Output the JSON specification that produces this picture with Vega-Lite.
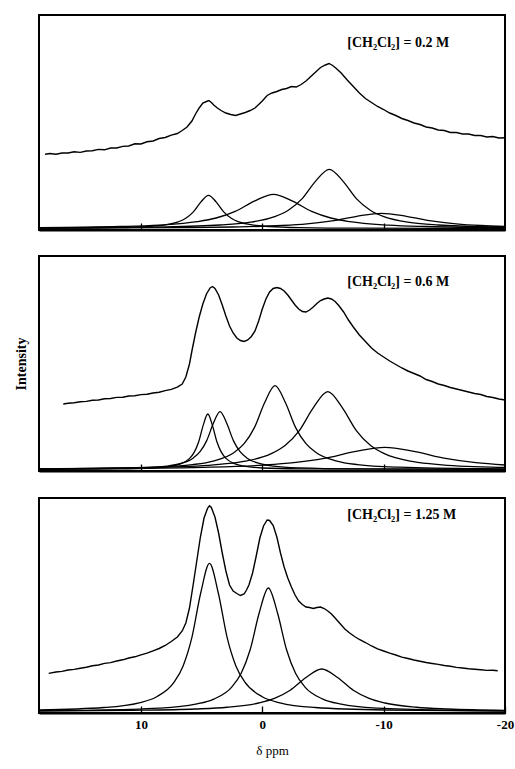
{
  "$schema": "https://vega.github.io/schema/vega-lite/v6.json",
  "background": "white",
  "padding": {"left": 13, "top": 14, "right": 5, "bottom": 5},
  "spacing": 23,
  "config": {
    "view": {"stroke": "black", "strokeWidth": 2},
    "font": "Liberation Serif",
    "axis": {
      "grid": false, "domain": false,
      "labelFont": "Liberation Serif", "labelFontWeight": "bold", "labelFontSize": 13, "labelColor": "black",
      "titleFont": "Liberation Serif", "titleFontWeight": "normal", "titleFontSize": 13, "titleColor": "black",
      "tickColor": "black", "tickWidth": 1.3, "tickSize": -7
    },
    "axisX": {"domain": true, "domainColor": "black", "domainWidth": 2}
  },
  "datasets": {
    "s1": [
      {"x":17.9,"y":75.7},{"x":17.5,"y":76.5},{"x":17.0,"y":75.8},{"x":16.5,"y":77.0},{"x":16.0,"y":77.0},{"x":15.5,"y":78.3},{"x":15.0,"y":77.6},{"x":14.5,"y":79.0},{"x":14.0,"y":79.2},{"x":13.5,"y":80.6},{"x":13.0,"y":80.2},{"x":12.5,"y":82.0},{"x":12.0,"y":82.0},{"x":11.5,"y":83.6},{"x":11.0,"y":84.0},{"x":10.5,"y":86.2},{"x":10.0,"y":86.0},{"x":9.5,"y":88.2},{"x":9.0,"y":89.0},{"x":8.5,"y":91.5},{"x":8.0,"y":92.5},{"x":7.5,"y":94.8},{"x":7.0,"y":96.5},{"x":6.6,"y":99.5},{"x":6.2,"y":103},{"x":5.8,"y":109},{"x":5.5,"y":116},{"x":5.2,"y":122},{"x":4.9,"y":127},{"x":4.6,"y":128.5},{"x":4.4,"y":129.5},{"x":4.2,"y":127.5},{"x":4.0,"y":125},{"x":3.7,"y":122},{"x":3.4,"y":119.5},{"x":3.0,"y":117},{"x":2.6,"y":115.5},{"x":2.2,"y":114.5},{"x":1.8,"y":116},{"x":1.4,"y":117.5},{"x":1.0,"y":119.5},{"x":0.6,"y":122},{"x":0.3,"y":125.5},{"x":0.0,"y":129},{"x":-0.4,"y":134.5},{"x":-0.8,"y":137},{"x":-1.2,"y":138.5},{"x":-1.6,"y":140.5},{"x":-2.0,"y":141.5},{"x":-2.4,"y":143.5},{"x":-2.8,"y":143},{"x":-3.2,"y":145.5},{"x":-3.6,"y":149},{"x":-4.0,"y":153.5},{"x":-4.4,"y":158},{"x":-4.8,"y":162.5},{"x":-5.2,"y":165},{"x":-5.5,"y":166.5},{"x":-5.8,"y":164.5},{"x":-6.1,"y":161.5},{"x":-6.5,"y":157},{"x":-7.0,"y":150},{"x":-7.5,"y":143.5},{"x":-8.0,"y":137},{"x":-8.5,"y":131.5},{"x":-9.0,"y":127.5},{"x":-9.5,"y":123.5},{"x":-10.0,"y":120.5},{"x":-10.5,"y":117},{"x":-11.0,"y":114.5},{"x":-11.5,"y":111.5},{"x":-12.0,"y":109.5},{"x":-12.5,"y":107},{"x":-13.0,"y":105.5},{"x":-13.5,"y":103},{"x":-14.0,"y":102},{"x":-14.5,"y":100},{"x":-15.0,"y":99.5},{"x":-15.5,"y":97.5},{"x":-16.0,"y":97.5},{"x":-16.5,"y":96},{"x":-17.0,"y":96},{"x":-17.5,"y":94.5},{"x":-18.0,"y":94.5},{"x":-18.5,"y":93},{"x":-19.0,"y":93.5},{"x":-19.5,"y":92},{"x":-20.0,"y":92.3}
    ],
    "s2": [
      {"x":16.4,"y":67},{"x":16.0,"y":67.8},{"x":15.5,"y":68.2},{"x":15.0,"y":69.3},{"x":14.5,"y":69.6},{"x":14.0,"y":70.8},{"x":13.5,"y":71.0},{"x":13.0,"y":72.2},{"x":12.5,"y":72.5},{"x":12.0,"y":73.6},{"x":11.5,"y":73.8},{"x":11.0,"y":75.0},{"x":10.5,"y":75.2},{"x":10.0,"y":76.4},{"x":9.5,"y":76.8},{"x":9.0,"y":78.0},{"x":8.5,"y":78.8},{"x":8.0,"y":80.4},{"x":7.5,"y":81.6},{"x":7.0,"y":83.8},{"x":6.6,"y":87},{"x":6.3,"y":94},{"x":6.0,"y":107},{"x":5.8,"y":120},{"x":5.5,"y":138},{"x":5.2,"y":154},{"x":4.9,"y":167},{"x":4.6,"y":177},{"x":4.3,"y":183},{"x":4.1,"y":184.5},{"x":3.9,"y":182.5},{"x":3.6,"y":176},{"x":3.3,"y":166},{"x":3.0,"y":155},{"x":2.7,"y":145},{"x":2.4,"y":138},{"x":2.1,"y":133},{"x":1.8,"y":130.5},{"x":1.5,"y":129.5},{"x":1.2,"y":131},{"x":0.9,"y":134.5},{"x":0.6,"y":140},{"x":0.3,"y":150},{"x":0.0,"y":162},{"x":-0.3,"y":172},{"x":-0.6,"y":179},{"x":-0.9,"y":182.5},{"x":-1.2,"y":183.5},{"x":-1.5,"y":182.5},{"x":-1.8,"y":180},{"x":-2.1,"y":176},{"x":-2.4,"y":171},{"x":-2.7,"y":166},{"x":-3.0,"y":162},{"x":-3.3,"y":159.5},{"x":-3.6,"y":159},{"x":-3.9,"y":161},{"x":-4.2,"y":164},{"x":-4.5,"y":167.5},{"x":-4.8,"y":170.5},{"x":-5.1,"y":172},{"x":-5.4,"y":173},{"x":-5.7,"y":172},{"x":-6.0,"y":169.5},{"x":-6.3,"y":165.5},{"x":-6.7,"y":159},{"x":-7.1,"y":151},{"x":-7.5,"y":144},{"x":-8.0,"y":136},{"x":-8.5,"y":129.5},{"x":-9.0,"y":123},{"x":-9.5,"y":118},{"x":-10.0,"y":114},{"x":-10.5,"y":110},{"x":-11.0,"y":106.5},{"x":-11.5,"y":103},{"x":-12.0,"y":100},{"x":-12.5,"y":97.5},{"x":-13.0,"y":95},{"x":-13.5,"y":91.5},{"x":-14.0,"y":89.5},{"x":-14.5,"y":87},{"x":-15.0,"y":85.5},{"x":-15.5,"y":83.5},{"x":-16.0,"y":82},{"x":-16.5,"y":80.5},{"x":-17.0,"y":79},{"x":-17.5,"y":77.5},{"x":-18.0,"y":76.5},{"x":-18.5,"y":74.5},{"x":-19.0,"y":73.5},{"x":-19.5,"y":72},{"x":-20.0,"y":71}
    ],
    "s3": [
      {"x":17.6,"y":39.6},{"x":17.0,"y":41.0},{"x":16.5,"y":41.6},{"x":16.0,"y":43.0},{"x":15.5,"y":43.6},{"x":15.0,"y":44.8},{"x":14.5,"y":45.8},{"x":14.0,"y":47.2},{"x":13.5,"y":48.0},{"x":13.0,"y":49.6},{"x":12.5,"y":50.4},{"x":12.0,"y":52.0},{"x":11.5,"y":53.2},{"x":11.0,"y":55.0},{"x":10.5,"y":56.2},{"x":10.0,"y":58.2},{"x":9.5,"y":59.8},{"x":9.0,"y":62.2},{"x":8.5,"y":64.5},{"x":8.0,"y":67.5},{"x":7.5,"y":71.5},{"x":7.0,"y":76},{"x":6.6,"y":82},{"x":6.3,"y":90},{"x":6.0,"y":105},{"x":5.7,"y":128},{"x":5.4,"y":152},{"x":5.1,"y":176},{"x":4.8,"y":195},{"x":4.5,"y":205},{"x":4.35,"y":207.3},{"x":4.2,"y":205.5},{"x":3.9,"y":196},{"x":3.6,"y":180},{"x":3.3,"y":160},{"x":3.0,"y":142},{"x":2.7,"y":128},{"x":2.4,"y":122},{"x":2.1,"y":119.5},{"x":1.8,"y":117.5},{"x":1.5,"y":119},{"x":1.3,"y":123},{"x":1.1,"y":128},{"x":0.8,"y":140},{"x":0.5,"y":157},{"x":0.2,"y":175},{"x":-0.1,"y":187},{"x":-0.4,"y":193},{"x":-0.6,"y":192.5},{"x":-0.9,"y":187.5},{"x":-1.2,"y":176},{"x":-1.5,"y":160},{"x":-1.8,"y":146},{"x":-2.1,"y":135},{"x":-2.4,"y":126},{"x":-2.7,"y":118},{"x":-3.0,"y":112},{"x":-3.3,"y":108.5},{"x":-3.6,"y":106},{"x":-3.9,"y":105.5},{"x":-4.2,"y":104.5},{"x":-4.5,"y":105.5},{"x":-4.8,"y":106},{"x":-5.1,"y":104.5},{"x":-5.4,"y":102},{"x":-5.7,"y":99},{"x":-6.0,"y":95},{"x":-6.4,"y":89.5},{"x":-6.8,"y":84},{"x":-7.2,"y":80},{"x":-7.6,"y":76.5},{"x":-8.0,"y":73.5},{"x":-8.5,"y":70.5},{"x":-9.0,"y":67},{"x":-9.5,"y":64.2},{"x":-10.0,"y":62},{"x":-10.5,"y":59.8},{"x":-11.0,"y":58},{"x":-11.5,"y":55.8},{"x":-12.0,"y":54.5},{"x":-12.5,"y":53},{"x":-13.0,"y":51.8},{"x":-13.5,"y":50.5},{"x":-14.0,"y":49.5},{"x":-14.5,"y":48.6},{"x":-15.0,"y":47.5},{"x":-15.5,"y":46.8},{"x":-16.0,"y":45.6},{"x":-16.5,"y":45},{"x":-17.0,"y":44.2},{"x":-17.5,"y":43.8},{"x":-18.0,"y":43.2},{"x":-18.5,"y":42.6},{"x":-19.0,"y":42.8},{"x":-19.4,"y":42.3}
    ],
    "k1": [
      {"c":"A","x":18.4,"y":1.8},{"c":"A","x":16.93,"y":1.8},{"c":"A","x":11.93,"y":2.4},{"c":"A","x":9.43,"y":3.5},{"c":"A","x":8.18,"y":4.8},{"c":"A","x":6.93,"y":8.1},{"c":"A","x":6.305,"y":11.7},{"c":"A","x":5.68,"y":18.1},{"c":"A","x":5.055,"y":28.1},{"c":"A","x":4.43,"y":34.7},{"c":"A","x":3.805,"y":28.1},{"c":"A","x":3.18,"y":18.1},{"c":"A","x":2.555,"y":11.7},{"c":"A","x":1.93,"y":8.1},{"c":"A","x":0.68,"y":4.8},{"c":"A","x":-0.57,"y":3.5},{"c":"A","x":-3.07,"y":2.4},{"c":"A","x":-8.07,"y":1.8},{"c":"A","x":-20,"y":1.6},
      {"c":"B","x":18.4,"y":2.4},{"c":"B","x":11.68,"y":3.5},{"c":"B","x":8.53,"y":4.9},{"c":"B","x":5.38,"y":8.3},{"c":"B","x":3.805,"y":12.0},{"c":"B","x":2.23,"y":18.6},{"c":"B","x":0.655,"y":28.9},{"c":"B","x":-0.92,"y":35.7},{"c":"B","x":-2.495,"y":28.9},{"c":"B","x":-4.07,"y":18.6},{"c":"B","x":-5.645,"y":12.0},{"c":"B","x":-7.22,"y":8.3},{"c":"B","x":-10.37,"y":4.9},{"c":"B","x":-13.52,"y":3.5},{"c":"B","x":-20,"y":2.4},
      {"c":"C","x":18.4,"y":2.0},{"c":"C","x":7.98,"y":3.1},{"c":"C","x":3.48,"y":5.0},{"c":"C","x":1.23,"y":7.4},{"c":"C","x":-1.02,"y":13.3},{"c":"C","x":-2.145,"y":19.7},{"c":"C","x":-3.27,"y":31.1},{"c":"C","x":-4.395,"y":48.9},{"c":"C","x":-5.52,"y":60.7},{"c":"C","x":-6.645,"y":48.9},{"c":"C","x":-7.77,"y":31.1},{"c":"C","x":-8.895,"y":19.7},{"c":"C","x":-10.02,"y":13.3},{"c":"C","x":-12.27,"y":7.4},{"c":"C","x":-14.52,"y":5.0},{"c":"C","x":-19.02,"y":3.1},{"c":"C","x":-20,"y":2.9},
      {"c":"D","x":18.4,"y":1.8},{"c":"D","x":6.57,"y":2.4},{"c":"D","x":2.47,"y":3.0},{"c":"D","x":-1.63,"y":4.5},{"c":"D","x":-3.68,"y":6.2},{"c":"D","x":-5.73,"y":9.1},{"c":"D","x":-7.78,"y":13.7},{"c":"D","x":-9.83,"y":16.7},{"c":"D","x":-11.88,"y":13.7},{"c":"D","x":-13.93,"y":9.1},{"c":"D","x":-15.98,"y":6.2},{"c":"D","x":-18.03,"y":4.5},{"c":"D","x":-20,"y":3.6}
    ],
    "k2": [
      {"c":"A","x":18.4,"y":1.7},{"c":"A","x":11.99,"y":2.1},{"c":"A","x":8.99,"y":3.0},{"c":"A","x":7.49,"y":4.8},{"c":"A","x":6.74,"y":7.1},{"c":"A","x":5.99,"y":12.6},{"c":"A","x":5.615,"y":18.6},{"c":"A","x":5.24,"y":29.3},{"c":"A","x":4.865,"y":45.9},{"c":"A","x":4.49,"y":57.0},{"c":"A","x":4.115,"y":45.9},{"c":"A","x":3.74,"y":29.3},{"c":"A","x":3.365,"y":18.6},{"c":"A","x":2.99,"y":12.6},{"c":"A","x":2.24,"y":7.1},{"c":"A","x":1.49,"y":4.8},{"c":"A","x":-0.01,"y":3.0},{"c":"A","x":-3.01,"y":2.1},{"c":"A","x":-20,"y":1.55},
      {"c":"B","x":18.4,"y":1.8},{"c":"B","x":14.48,"y":2.1},{"c":"B","x":10.08,"y":3.1},{"c":"B","x":7.88,"y":4.9},{"c":"B","x":6.78,"y":7.3},{"c":"B","x":5.68,"y":13.1},{"c":"B","x":5.13,"y":19.3},{"c":"B","x":4.58,"y":30.4},{"c":"B","x":4.03,"y":47.7},{"c":"B","x":3.48,"y":59.3},{"c":"B","x":2.93,"y":47.7},{"c":"B","x":2.38,"y":30.4},{"c":"B","x":1.83,"y":19.3},{"c":"B","x":1.28,"y":13.1},{"c":"B","x":0.18,"y":7.3},{"c":"B","x":-0.92,"y":4.9},{"c":"B","x":-3.12,"y":3.1},{"c":"B","x":-7.52,"y":2.1},{"c":"B","x":-20,"y":1.6},
      {"c":"C","x":18.4,"y":2.1},{"c":"C","x":15.95,"y":2.3},{"c":"C","x":9.15,"y":3.8},{"c":"C","x":5.75,"y":6.4},{"c":"C","x":4.05,"y":9.9},{"c":"C","x":2.35,"y":18.3},{"c":"C","x":1.5,"y":27.3},{"c":"C","x":0.65,"y":43.4},{"c":"C","x":-0.2,"y":68.5},{"c":"C","x":-1.05,"y":85.3},{"c":"C","x":-1.9,"y":68.5},{"c":"C","x":-2.75,"y":43.4},{"c":"C","x":-3.6,"y":27.3},{"c":"C","x":-4.45,"y":18.3},{"c":"C","x":-6.15,"y":9.9},{"c":"C","x":-7.85,"y":6.4},{"c":"C","x":-11.25,"y":3.8},{"c":"C","x":-18.05,"y":2.3},{"c":"C","x":-20,"y":2.2},
      {"c":"D","x":18.4,"y":2.3},{"c":"D","x":8.7,"y":3.6},{"c":"D","x":4.0,"y":6.1},{"c":"D","x":1.65,"y":9.3},{"c":"D","x":-0.7,"y":17.1},{"c":"D","x":-1.875,"y":25.4},{"c":"D","x":-3.05,"y":40.4},{"c":"D","x":-4.225,"y":63.7},{"c":"D","x":-5.4,"y":79.3},{"c":"D","x":-6.575,"y":63.7},{"c":"D","x":-7.75,"y":40.4},{"c":"D","x":-8.925,"y":25.4},{"c":"D","x":-10.1,"y":17.1},{"c":"D","x":-12.45,"y":9.3},{"c":"D","x":-14.8,"y":6.1},{"c":"D","x":-19.5,"y":3.6},{"c":"D","x":-20,"y":3.5},
      {"c":"E","x":18.4,"y":2.2},{"c":"E","x":9.9,"y":2.8},{"c":"E","x":4.9,"y":3.7},{"c":"E","x":-0.1,"y":5.9},{"c":"E","x":-2.6,"y":8.3},{"c":"E","x":-5.1,"y":12.6},{"c":"E","x":-7.6,"y":19.3},{"c":"E","x":-10.1,"y":23.7},{"c":"E","x":-12.6,"y":19.3},{"c":"E","x":-15.1,"y":12.6},{"c":"E","x":-17.6,"y":8.3},{"c":"E","x":-20,"y":6.0}
    ],
    "k3": [
      {"c":"A","x":18.4,"y":3.1},{"c":"A","x":13.05,"y":5.5},{"c":"A","x":10.15,"y":10.2},{"c":"A","x":8.7,"y":16.3},{"c":"A","x":7.25,"y":31.1},{"c":"A","x":6.525,"y":47.1},{"c":"A","x":5.8,"y":75.6},{"c":"A","x":5.075,"y":120.0},{"c":"A","x":4.35,"y":149.6},{"c":"A","x":3.625,"y":120.0},{"c":"A","x":2.9,"y":75.6},{"c":"A","x":2.175,"y":47.1},{"c":"A","x":1.45,"y":31.1},{"c":"A","x":0.0,"y":16.3},{"c":"A","x":-1.45,"y":10.2},{"c":"A","x":-4.35,"y":5.5},{"c":"A","x":-10.15,"y":3.0},{"c":"A","x":-20,"y":2.0},
      {"c":"B","x":18.4,"y":2.3},{"c":"B","x":14.5,"y":2.7},{"c":"B","x":8.5,"y":4.8},{"c":"B","x":5.5,"y":8.8},{"c":"B","x":4.0,"y":13.9},{"c":"B","x":2.5,"y":26.2},{"c":"B","x":1.75,"y":39.5},{"c":"B","x":1.0,"y":63.3},{"c":"B","x":0.25,"y":100.3},{"c":"B","x":-0.5,"y":125},{"c":"B","x":-1.25,"y":100.3},{"c":"B","x":-2.0,"y":63.3},{"c":"B","x":-2.75,"y":39.5},{"c":"B","x":-3.5,"y":26.2},{"c":"B","x":-5.0,"y":13.9},{"c":"B","x":-6.5,"y":8.8},{"c":"B","x":-9.5,"y":4.8},{"c":"B","x":-15.5,"y":2.7},{"c":"B","x":-20,"y":2.2},
      {"c":"C","x":18.4,"y":2.0},{"c":"C","x":10.7,"y":2.65},{"c":"C","x":5.5,"y":4.0},{"c":"C","x":2.9,"y":5.75},{"c":"C","x":0.3,"y":10.0},{"c":"C","x":-1.0,"y":14.6},{"c":"C","x":-2.3,"y":22.75},{"c":"C","x":-3.6,"y":35.5},{"c":"C","x":-4.9,"y":44},{"c":"C","x":-6.2,"y":35.5},{"c":"C","x":-7.5,"y":22.75},{"c":"C","x":-8.8,"y":14.6},{"c":"C","x":-10.1,"y":10.0},{"c":"C","x":-12.7,"y":5.75},{"c":"C","x":-15.3,"y":4.0},{"c":"C","x":-20,"y":2.7}
    ]
  },
  "vconcat": [
    {
      "width": 466, "height": 215,
      "layer": [
        {"data": {"name": "s1"}, "mark": {"type": "line", "color": "black", "strokeWidth": 1.4},
         "encoding": {
           "x": {"field": "x", "type": "quantitative", "scale": {"domain": [-20, 18.4], "reverse": true, "nice": false, "zero": false},
                 "axis": {"values": [10, 0, -10], "labels": false, "title": null}},
           "y": {"field": "y", "type": "quantitative", "scale": {"domain": [0, 215], "nice": false, "zero": false}, "axis": null}}},
        {"data": {"name": "k1"}, "mark": {"type": "line", "color": "black", "strokeWidth": 1.3, "interpolate": "monotone"},
         "encoding": {"x": {"field": "x", "type": "quantitative"}, "y": {"field": "y", "type": "quantitative"}, "detail": {"field": "c"}}},
        {"data": {"values": [{"t": "[CH₂Cl₂] = 0.2 M"}]},
         "mark": {"type": "text", "align": "left", "baseline": "middle", "font": "Liberation Serif", "fontWeight": "bold", "fontSize": 14, "fill": "black"},
         "encoding": {"x": {"datum": -7.0, "type": "quantitative"}, "y": {"datum": 187, "type": "quantitative"}, "text": {"field": "t", "type": "nominal"}}}
      ]
    },
    {
      "width": 466, "height": 215,
      "layer": [
        {"data": {"name": "s2"}, "mark": {"type": "line", "color": "black", "strokeWidth": 1.4},
         "encoding": {
           "x": {"field": "x", "type": "quantitative", "scale": {"domain": [-20, 18.4], "reverse": true, "nice": false, "zero": false},
                 "axis": {"values": [10, 0, -10], "labels": false, "title": null}},
           "y": {"field": "y", "type": "quantitative", "scale": {"domain": [0, 215], "nice": false, "zero": false},
                 "axis": {"title": "Intensity", "labels": false, "ticks": false, "domain": false, "titleFontWeight": "bold", "titleFontSize": 14, "titlePadding": 11}}}},
        {"data": {"name": "k2"}, "mark": {"type": "line", "color": "black", "strokeWidth": 1.3, "interpolate": "monotone"},
         "encoding": {"x": {"field": "x", "type": "quantitative"}, "y": {"field": "y", "type": "quantitative"}, "detail": {"field": "c"}}},
        {"data": {"values": [{"t": "[CH₂Cl₂] = 0.6 M"}]},
         "mark": {"type": "text", "align": "left", "baseline": "middle", "font": "Liberation Serif", "fontWeight": "bold", "fontSize": 14, "fill": "black"},
         "encoding": {"x": {"datum": -7.0, "type": "quantitative"}, "y": {"datum": 189, "type": "quantitative"}, "text": {"field": "t", "type": "nominal"}}}
      ]
    },
    {
      "width": 466, "height": 215,
      "layer": [
        {"data": {"name": "s3"}, "mark": {"type": "line", "color": "black", "strokeWidth": 1.4},
         "encoding": {
           "x": {"field": "x", "type": "quantitative", "scale": {"domain": [-20, 18.4], "reverse": true, "nice": false, "zero": false},
                 "axis": {"values": [10, 0, -10, -20], "labels": true, "labelFlush": false, "labelPadding": 12, "labelExpr": "datum.value + ''", "title": "δ ppm", "titlePadding": 13}},
           "y": {"field": "y", "type": "quantitative", "scale": {"domain": [0, 215], "nice": false, "zero": false}, "axis": null}}},
        {"data": {"name": "k3"}, "mark": {"type": "line", "color": "black", "strokeWidth": 1.3, "interpolate": "monotone"},
         "encoding": {"x": {"field": "x", "type": "quantitative"}, "y": {"field": "y", "type": "quantitative"}, "detail": {"field": "c"}}},
        {"data": {"values": [{"t": "[CH₂Cl₂] = 1.25 M"}]},
         "mark": {"type": "text", "align": "left", "baseline": "middle", "font": "Liberation Serif", "fontWeight": "bold", "fontSize": 14, "fill": "black"},
         "encoding": {"x": {"datum": -7.0, "type": "quantitative"}, "y": {"datum": 198, "type": "quantitative"}, "text": {"field": "t", "type": "nominal"}}}
      ]
    }
  ]
}
